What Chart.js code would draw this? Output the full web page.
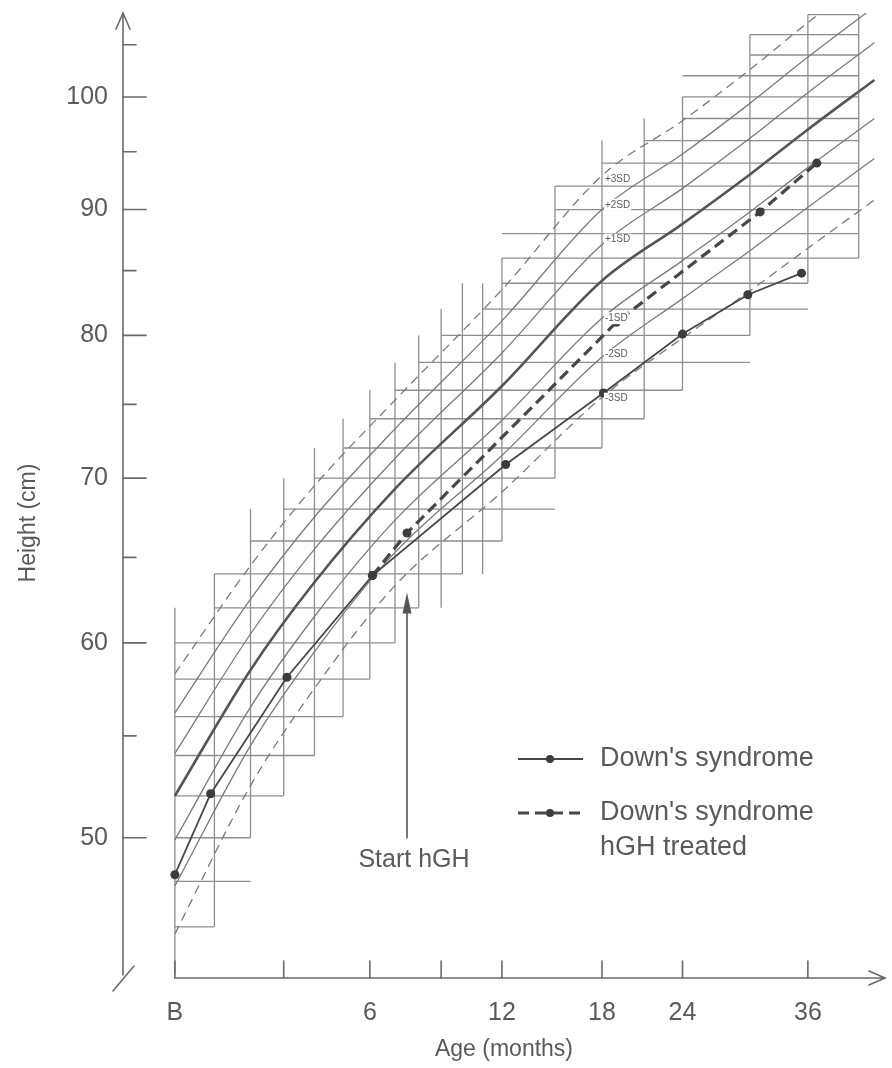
<!DOCTYPE html>
<html>
<head>
<meta charset="utf-8">
<script src="https://cdn.jsdelivr.net/npm/chart.js@4.4.0/dist/chart.umd.min.js"></script>
<style>
    html, body { margin: 0; padding: 0; background: #fff; }
    canvas { display: block; }
</style>
</head>
<body>
<canvas id="growthChart" width="892" height="1068"></canvas>
<script>
(function() {
    'use strict';

    // Age axis of the chart paper runs on log(age + 10 months)
    const AGE_OFFSET = 10;

    // Axis ticks
    const ageTicks = [0, 3, 6, 9, 12, 18, 24, 36];
    const ageTickLabels = ['B', '', '6', '', '12', '18', '24', '36'];
    const heightTicks = [50, 55, 60, 65, 70, 75, 80, 85, 90, 95, 100, 105];
    const heightTickLabels = ['50', '', '60', '', '70', '', '80', '', '90', '', '100', ''];

    // Patient measurements (months, cm)
    const downAges = [0, 0.9, 3.1, 6.1, 12.2, 18.1, 24.0, 29.8, 35.3];
    const downHeights = [48.3, 52.1, 58.1, 63.9, 70.9, 75.8, 80.1, 83.1, 84.8];
    const treatedAges = [6.1, 7.5, 19.0, 31.0, 37.0];
    const treatedHeights = [63.9, 66.5, 81.0, 89.8, 94.0];

    // Reference SD curves printed on the chart paper
    const refAges = [0, 2, 4, 7, 12, 18, 24, 30, 36, 44];
    const refPlus3 = [58.3, 64.5, 69.5, 75.3, 83.5, 92.9, 97.8, 102.6, 107.2, 112.4];
    const refPlus2 = [56.2, 62.5, 67.5, 73.3, 81.1, 90.0, 94.8, 99.4, 103.8, 108.8];
    const refPlus1 = [54.1, 60.5, 65.5, 71.3, 78.7, 87.1, 91.8, 96.2, 100.4, 105.2];
    const refMean = [52.0, 58.5, 63.5, 69.3, 76.3, 84.2, 88.8, 93.0, 97.0, 101.6];
    const refMinus1 = [49.9, 56.5, 61.5, 67.3, 73.9, 81.3, 85.8, 89.8, 93.6, 98.0];
    const refMinus2 = [47.8, 54.5, 59.5, 65.3, 71.5, 78.4, 82.8, 86.6, 90.2, 94.4];
    const refMinus3 = [45.7, 52.5, 57.5, 63.3, 69.1, 75.5, 79.8, 83.4, 86.8, 90.8];

    // Chart paper grid (months, cm)
    const gridAges = [0, 1, 2, 3, 4, 5, 6, 7, 8, 9, 10, 11, 12, 15, 18, 21, 24, 30, 36, 42];
    const gridHeights = [46, 48, 50, 52, 54, 56, 58, 60, 62, 64, 66, 68, 70, 72, 74, 76, 78,
        80, 82, 84, 86, 88, 90, 92, 94, 96, 98, 100, 102, 104, 106, 108];

    // SD labels beside the 18 month line
    const sdLabelAge = 18;
    const sdLabelTexts = ['+3SD', '+2SD', '+1SD', '-1SD', '-2SD', '-3SD'];
    const sdLabelHeights = [92.6, 90.4, 87.5, 81.3, 78.6, 75.4];

    // Start of treatment marker
    const hghStartAge = 7.5;
    const hghArrowFrom = 50.0;
    const hghArrowTo = 62.9;

    const TEXT_COLOR = '#5a5a5a';
    const GRID_COLOR = '#8e8e8e';
    const CURVE_COLOR = '#7a7a7a';
    const DATA_COLOR = '#474747';
    const FONT_FAMILY = "'Liberation Sans', Arial, sans-serif";

    const toX = (age) => age + AGE_OFFSET;
    const toPoints = (ages, heights) => ages.map((a, i) => ({ x: toX(a), y: heights[i] }));

    // Linear interpolation along a reference curve
    const curveAt = (values, age) => {
        if (age <= refAges[0]) return values[0];
        for (let i = 1; i < refAges.length; i++) {
            if (age <= refAges[i]) {
                const t = (age - refAges[i - 1]) / (refAges[i] - refAges[i - 1]);
                return values[i - 1] + t * (values[i] - values[i - 1]);
            }
        }
        return values[values.length - 1];
    };

    // Age at which a reference curve reaches a height (null if never)
    const ageWhere = (values, h) => {
        if (h <= values[0]) return refAges[0];
        for (let i = 1; i < values.length; i++) {
            if (h <= values[i]) {
                const t = (h - values[i - 1]) / (values[i] - values[i - 1]);
                return refAges[i - 1] + t * (refAges[i] - refAges[i - 1]);
            }
        }
        return null;
    };

    const floorOf = (list, v) => list.filter(g => g <= v).pop();
    const ceilOf = (list, v) => {
        const up = list.find(g => g >= v);
        return up === undefined ? list[list.length - 1] : up;
    };

    const segment = (a, b) => ({
        type: 'line',
        data: [a, b],
        borderColor: GRID_COLOR,
        borderWidth: 1.3,
        pointRadius: 0,
        fill: false,
        order: 3
    });

    // Grid lines are clipped to the band around the +-3SD curves
    const buildGrid = () => {
        const sets = [];
        gridHeights.forEach(h => {
            const aUp = ageWhere(refPlus3, h);
            if (aUp === null) return;
            const left = floorOf(gridAges, aUp);
            const aLo = ageWhere(refMinus3, h + 2);
            const right = aLo === null ? gridAges[gridAges.length - 1] : ceilOf(gridAges, aLo);
            if (right <= left) return;
            sets.push(segment({ x: toX(left), y: h }, { x: toX(right), y: h }));
        });
        const hMin = gridHeights[0] - 2;
        const hMax = gridHeights[gridHeights.length - 1];
        gridAges.forEach(a => {
            const low = Math.max(hMin, floorOf([hMin].concat(gridHeights), curveAt(refMinus3, a)) - 2);
            const high = Math.min(hMax, ceilOf(gridHeights, curveAt(refPlus3, a)) + 2);
            sets.push(segment({ x: toX(a), y: low }, { x: toX(a), y: high }));
        });
        return sets;
    };

    const refCurves = [
        { values: refPlus3, kind: 'outer' },
        { values: refPlus2, kind: 'thin' },
        { values: refPlus1, kind: 'thin' },
        { values: refMean, kind: 'mean' },
        { values: refMinus1, kind: 'thin' },
        { values: refMinus2, kind: 'thin' },
        { values: refMinus3, kind: 'outer' }
    ];

    const curveSets = refCurves.map(c => ({
        type: 'line',
        data: toPoints(refAges, c.values),
        borderColor: c.kind === 'mean' ? '#555' : CURVE_COLOR,
        borderWidth: c.kind === 'mean' ? 2.6 : 1.3,
        borderDash: c.kind === 'outer' ? [9, 6] : [],
        cubicInterpolationMode: 'monotone',
        pointRadius: 0,
        fill: false,
        order: 2
    }));

    const dataSets = [
        {
            label: "Down's syndrome",
            data: toPoints(downAges, downHeights),
            borderColor: DATA_COLOR,
            borderWidth: 1.8,
            pointRadius: 4.5,
            pointBackgroundColor: '#3c3c3c',
            pointBorderWidth: 0,
            fill: false,
            order: 0
        },
        {
            label: "Down's syndrome hGH treated",
            data: toPoints(treatedAges, treatedHeights),
            borderColor: DATA_COLOR,
            borderWidth: 3.2,
            borderDash: [11, 6],
            pointRadius: 4.5,
            pointBackgroundColor: '#3c3c3c',
            pointBorderWidth: 0,
            fill: false,
            order: 1
        }
    ];

    const font = (size) => `${size}px ${FONT_FAMILY}`;

    // Axes with arrows, tick marks, SD labels, annotation and legend
    const decorPlugin = {
        id: 'decor',
        afterDraw(chart) {
            const { ctx, chartArea } = chart;
            const xs = chart.scales.x;
            const ys = chart.scales.y;
            const X = a => xs.getPixelForValue(toX(a));
            const Y = h => ys.getPixelForValue(h);

            ctx.save();
            ctx.strokeStyle = '#6a6a6a';
            ctx.fillStyle = '#6a6a6a';
            ctx.lineWidth = 1.6;
            ctx.lineCap = 'round';

            // y axis
            const x0 = chartArea.left;
            ctx.beginPath();
            ctx.moveTo(x0, chartArea.bottom - 3);
            ctx.lineTo(x0, chartArea.top);
            ctx.moveTo(x0 - 7, chartArea.top + 16);
            ctx.lineTo(x0, chartArea.top);
            ctx.lineTo(x0 + 7, chartArea.top + 16);
            ctx.moveTo(x0 - 10, chartArea.bottom + 13);
            ctx.lineTo(x0 + 11, chartArea.bottom - 12);
            ctx.stroke();

            heightTicks.forEach((h, i) => {
                const len = heightTickLabels[i] ? 23 : 13;
                ctx.beginPath();
                ctx.moveTo(x0, Y(h));
                ctx.lineTo(x0 + len, Y(h));
                ctx.stroke();
            });

            // x axis
            const yb = chartArea.bottom;
            ctx.beginPath();
            ctx.moveTo(X(0), yb);
            ctx.lineTo(chartArea.right, yb);
            ctx.moveTo(chartArea.right - 16, yb - 7);
            ctx.lineTo(chartArea.right, yb);
            ctx.lineTo(chartArea.right - 16, yb + 7);
            ctx.stroke();
            ageTicks.forEach(a => {
                ctx.beginPath();
                ctx.moveTo(X(a), yb);
                ctx.lineTo(X(a), yb - 17);
                ctx.stroke();
            });

            // y title
            ctx.fillStyle = TEXT_COLOR;
            ctx.font = font(23);
            ctx.textAlign = 'center';
            ctx.textBaseline = 'middle';
            ctx.save();
            ctx.translate(29, 523);
            ctx.rotate(-Math.PI / 2);
            ctx.fillText('Height (cm)', 0, 0);
            ctx.restore();

            // SD labels
            ctx.font = font(10);
            ctx.textAlign = 'left';
            sdLabelTexts.forEach((t, i) => {
                const lx = X(sdLabelAge) + 3;
                const ly = Y(sdLabelHeights[i]);
                const w = ctx.measureText(t).width;
                ctx.fillStyle = '#fff';
                ctx.fillRect(lx - 1, ly - 6, w + 2, 12);
                ctx.fillStyle = TEXT_COLOR;
                ctx.fillText(t, lx, ly);
            });

            // Start hGH arrow
            const ax = X(hghStartAge);
            const tip = Y(hghArrowTo);
            const base = Y(hghArrowFrom);
            ctx.strokeStyle = '#555';
            ctx.fillStyle = '#555';
            ctx.lineWidth = 1.6;
            ctx.beginPath();
            ctx.moveTo(ax, base);
            ctx.lineTo(ax, tip + 12);
            ctx.stroke();
            ctx.beginPath();
            ctx.moveTo(ax, tip);
            ctx.lineTo(ax - 4.5, tip + 21);
            ctx.lineTo(ax + 4.5, tip + 21);
            ctx.closePath();
            ctx.fill();

            ctx.fillStyle = TEXT_COLOR;
            ctx.font = font(25);
            ctx.textAlign = 'center';
            ctx.fillText('Start hGH', ax + 7, base + 22);

            // Legend
            const lx0 = 518, lx1 = 583, ldot = 550, ltext = 600;
            const rows = [759, 813];
            ctx.strokeStyle = DATA_COLOR;
            ctx.fillStyle = '#3c3c3c';
            rows.forEach((ry, i) => {
                const ds = dataSets[i];
                ctx.lineWidth = ds.borderWidth;
                ctx.setLineDash(ds.borderDash || []);
                ctx.lineCap = 'butt';
                ctx.beginPath();
                ctx.moveTo(lx0, ry);
                ctx.lineTo(lx1, ry);
                ctx.stroke();
                ctx.setLineDash([]);
                ctx.beginPath();
                ctx.arc(ldot, ry, 4, 0, Math.PI * 2);
                ctx.fill();
            });
            ctx.fillStyle = TEXT_COLOR;
            ctx.font = font(27);
            ctx.textAlign = 'left';
            ctx.fillText("Down's syndrome", ltext, rows[0]);
            ctx.fillText("Down's syndrome", ltext, rows[1]);
            ctx.fillText('hGH treated', ltext, rows[1] + 35);

            ctx.restore();
        }
    };

    const ctx = document.getElementById('growthChart').getContext('2d');

    new Chart(ctx, {
        type: 'line',
        data: {
            datasets: dataSets.concat(curveSets, buildGrid())
        },
        options: {
            responsive: false,
            animation: false,
            events: [],
            layout: { padding: { top: 13, right: 7, left: 0, bottom: 0 } },
            plugins: {
                legend: { display: false },
                tooltip: { enabled: false }
            },
            scales: {
                x: {
                    type: 'logarithmic',
                    position: 'bottom',
                    min: 8.824,
                    max: 55.4,
                    bounds: 'data',
                    grid: { display: false, drawTicks: false },
                    border: { display: false },
                    afterBuildTicks: (scale) => {
                        scale.ticks = ageTicks.map(a => ({ value: toX(a) }));
                    },
                    afterFit: (scale) => {
                        scale.height = 90;
                        scale.paddingLeft = 0;
                        scale.paddingRight = 0;
                    },
                    ticks: {
                        autoSkip: false,
                        maxRotation: 0,
                        padding: 20,
                        color: TEXT_COLOR,
                        font: { family: FONT_FAMILY, size: 25 },
                        callback: (value, index) => ageTickLabels[index]
                    },
                    title: {
                        display: true,
                        text: 'Age (months)',
                        color: TEXT_COLOR,
                        font: { family: FONT_FAMILY, size: 23 },
                        padding: { top: 0, bottom: 5 }
                    }
                },
                y: {
                    type: 'logarithmic',
                    position: 'left',
                    min: 43.85,
                    max: 108.17,
                    bounds: 'data',
                    grid: { display: false, drawTicks: false },
                    border: { display: false },
                    afterBuildTicks: (scale) => {
                        scale.ticks = heightTicks.map(h => ({ value: h }));
                    },
                    afterFit: (scale) => {
                        scale.width = 123;
                        scale.paddingTop = 0;
                        scale.paddingBottom = 0;
                    },
                    ticks: {
                        autoSkip: false,
                        padding: 15,
                        color: TEXT_COLOR,
                        font: { family: FONT_FAMILY, size: 25 },
                        callback: (value, index) => heightTickLabels[index]
                    }
                }
            }
        },
        plugins: [decorPlugin]
    });
})();
</script>
</body>
</html>
